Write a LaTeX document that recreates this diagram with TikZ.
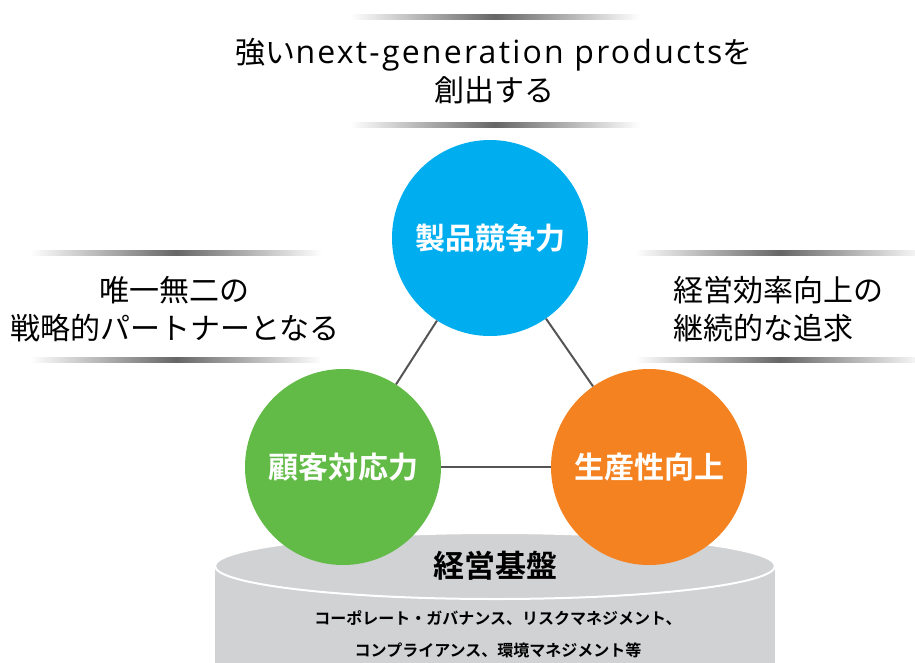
\documentclass[tikz,border=0pt]{standalone}
\usepackage{fontspec}
\setmainfont{Noto Sans CJK JP}[BoldFont={Noto Sans CJK JP Bold}]
\newfontfamily\latinfont{Open Sans}[LetterSpace=7]
\definecolor{cblue}{RGB}{0,174,239}
\definecolor{cgreen}{RGB}{98,187,70}
\definecolor{corange}{RGB}{245,130,32}
\definecolor{cbase}{RGB}{209,210,212}
\definecolor{cline}{RGB}{85,85,85}
\begin{document}
\begin{tikzpicture}[x=1pt,y=-1pt,
  ball/.style={circle, inner sep=0pt, minimum size=196pt, text=white,
     font=\bfseries\fontsize{30}{36}\selectfont},
  label/.style={inner sep=0pt, align=center, font=\fontsize{30}{38}\selectfont},
  link/.style={draw=cline, line width=2pt},
  bar/.style={left color=white, right color=white, middle color=black!60}]
\useasboundingbox (0,0) rectangle (915,662);
% gradient bars
\shade[bar] (350,14) rectangle (640,19);
\shade[bar] (350,122) rectangle (640,127);
\shade[bar] (30,250) rectangle (322,255);
\shade[bar] (30,357) rectangle (322,362);
\shade[bar] (635,250) rectangle (925,255);
\shade[bar] (635,357) rectangle (925,362);
% texts
\node[label] (top) at (494,71) {強い{\latinfont\fontsize{32}{38}\selectfont next-generation products}を\\創出する};
\node[label] (left) at (175,309) {唯一無二の\\戦略的パートナーとなる};
\node[label, align=left, anchor=west] (right) at (673,309) {経営効率向上の\\継続的な追求};
% base cylinder
\fill[cbase] (215,566) rectangle (775,700);
\filldraw[fill=cbase, draw=white, line width=2pt] (495,566) ellipse [x radius=280pt, y radius=33pt];
\node[inner sep=0pt, font=\bfseries\fontsize{31}{36}\selectfont] (base) at (495,566) {経営基盤};
\node[inner sep=0pt, align=center, font=\bfseries\fontsize{16}{32}\selectfont] (basetext) at (498,634)
  {コーポレート・ガバナンス、リスクマネジメント、\\コンプライアンス、環境マネジメント等};
% circles
\node[ball, fill=cblue] (prod) at (490,238) {製品競争力};
\node[ball, fill=cgreen] (cust) at (343,467) {顧客対応力};
\node[ball, fill=corange] (eff) at (649,467) {生産性向上};
\draw[link] (prod) -- (cust);
\draw[link] (prod) -- (eff);
\draw[link] (cust) -- (eff);
\end{tikzpicture}
\end{document}
